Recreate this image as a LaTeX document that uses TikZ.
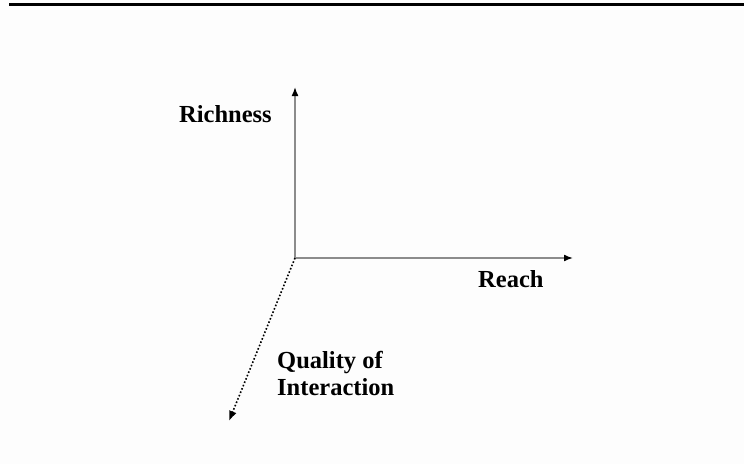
\documentclass[tikz,border=0pt]{standalone}
\usepackage{fontspec}
\setmainfont{Liberation Serif}
\usetikzlibrary{arrows.meta,positioning}
\definecolor{Paper}{HTML}{FDFDFD}
\definecolor{Axis}{HTML}{8C8C8C}

\begin{document}
\begin{tikzpicture}[x=1pt,y=-1pt,>=Latex,
  axis/.style={draw=Axis,line width=1.6pt,-{Latex[color=black,length=9pt,width=7pt]}},
  depth/.style={draw=black,line width=1.6pt,dotted,-{Latex[color=black,length=10pt,width=8pt]}},
  lbl/.style={inner sep=0pt,font=\fontsize{24.5}{27.5}\selectfont\bfseries,align=left}]
\fill[Paper] (0,0) rectangle (744,464);
\useasboundingbox (0,0) rectangle (744,464);
\draw[line width=2.4pt] (9,4.5) -- (744,4.5);
\coordinate (o) at (295,258);
\coordinate (up) at (295,87);
\coordinate (right) at (573,258);
\coordinate (down) at (229,421);
\draw[axis] (o) -- (up);
\draw[axis] (o) -- (right);
\draw[depth] (o) -- (down);
\node[lbl,anchor=base west](rich) at (179,122){Richness};
\node[lbl,anchor=base west](reach) at (478,287){Reach};
\node[lbl,anchor=north west](qual) at (277,351){Quality of\\Interaction};
\end{tikzpicture}
\end{document}
